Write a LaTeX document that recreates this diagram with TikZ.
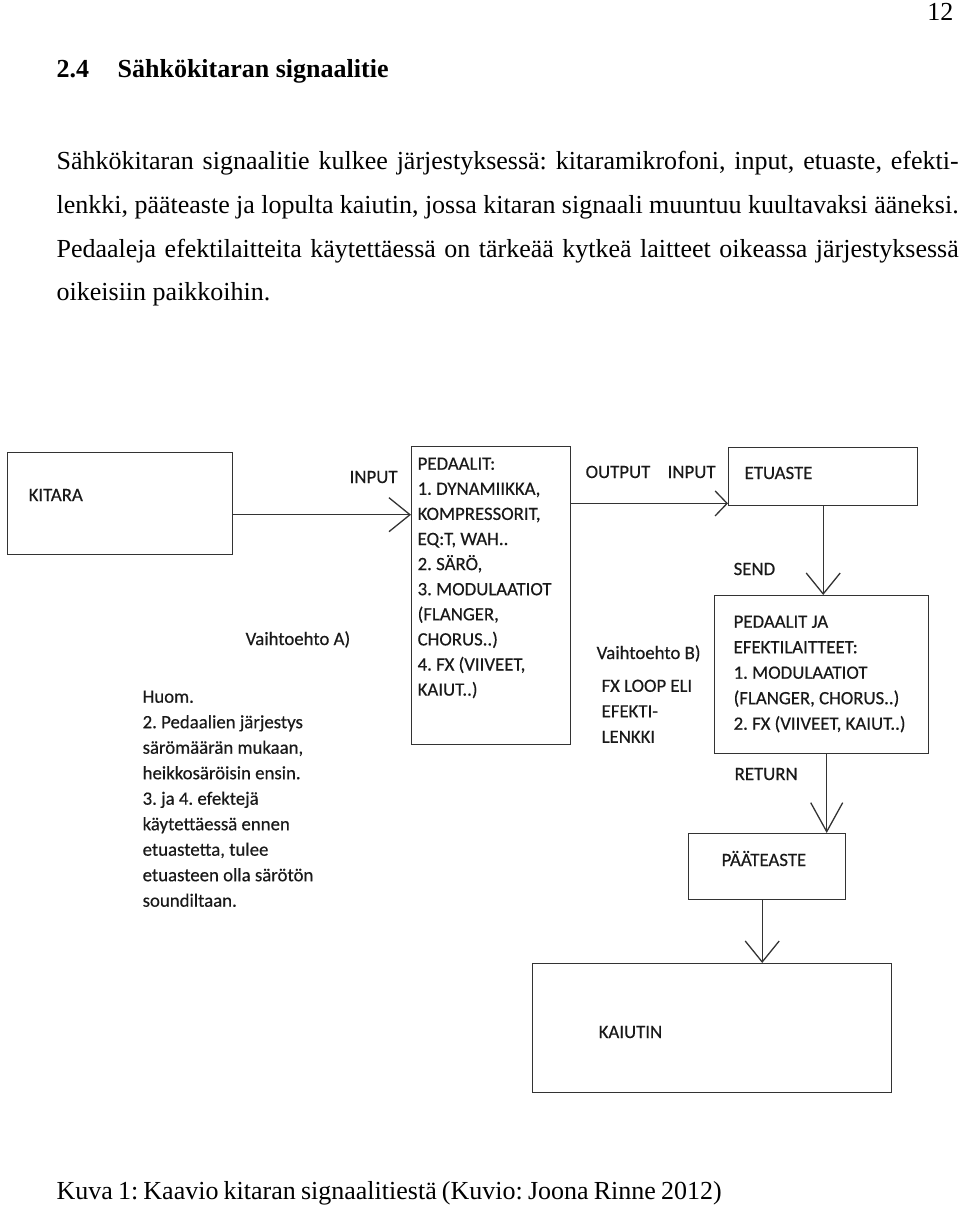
\documentclass[tikz,border=0pt]{standalone}
\usepackage{fontspec}
\setmainfont{Liberation Serif}
\newfontfamily\diafont[FakeBold=0.4]{Carlito}
\usetikzlibrary{arrows.meta}
\definecolor{linegray}{gray}{0.2}
\definecolor{inkgray}{gray}{0.1}
\frenchspacing

\begin{document}
\begin{tikzpicture}[x=1pt,y=-1pt,
-{Straight Barb[length=21pt,width=34pt]}, line width=1.3pt, linegray,
box/.style ={draw=linegray, line width=1.4pt, anchor=north west, inner sep=0pt},
lbl/.style ={font=\diafont\fontsize{18.8}{25.5}\selectfont, text=inkgray,
inner sep=0pt, anchor=base west},
lbllist/.style ={lbl, anchor=north west, align=left},
page/.style ={font=\fontsize{26}{30}\selectfont, text=black, inner sep=0pt,
anchor=base west}]
\useasboundingbox (0,0) rectangle (960,1206);

% page text
\node[page, anchor=base east] (pageno) at (954,21) {12};
\node[page, font=\fontsize{26}{30}\selectfont\bfseries] (secno) at (56,78) {2.4};
\node[page, font=\fontsize{26}{30}\selectfont\bfseries] (title) at (117,78) {Sähkökitaran signaalitie};
\node[page] (par1) at (56,170) {\makebox[902pt][s]{Sähkökitaran signaalitie kulkee järjestyksessä: kitaramikrofoni, input, etuaste, efekti-}};
\node[page] (par2) at (56,213.5) {\makebox[902pt][s]{lenkki, pääteaste ja lopulta kaiutin, jossa kitaran signaali muuntuu kuultavaksi ääneksi.}};
\node[page] (par3) at (56,257) {\makebox[902pt][s]{Pedaaleja efektilaitteita käytettäessä on tärkeää kytkeä laitteet oikeassa järjestyksessä}};
\node[page] (par4) at (56,300.5) {oikeisiin paikkoihin.};
\node[page] (caption) at (56,1199) {\makebox[665pt][s]{Kuva 1: Kaavio kitaran signaalitiestä (Kuvio: Joona Rinne 2012)}};

% boxes
\node[box, minimum width=225pt, minimum height=102pt] (kitara) at (7,452) {};
\node[box, minimum width=159pt, minimum height=298pt] (pedaalit) at (411,446) {};
\node[box, minimum width=189pt, minimum height=58pt] (etuaste) at (728,447) {};
\node[box, minimum width=214pt, minimum height=158pt] (fxloop) at (714,595) {};
\node[box, minimum width=157pt, minimum height=66pt] (paateaste) at (688,833) {};
\node[box, minimum width=359pt, minimum height=129pt] (kaiutin) at (532,963) {};

% box texts
\node[lbl] (kitaratxt) at (28,501) {KITARA};
\node[lbllist, font=\diafont\fontsize{18.8}{25.1}\selectfont] (pedaalittxt) at (417,457)
{PEDAALIT:\\1. DYNAMIIKKA,\\KOMPRESSORIT,\\EQ:T, WAH..\\2. SÄRÖ,\\3. MODULAATIOT\\(FLANGER,\\CHORUS..)\\4. FX (VIIVEET,\\KAIUT..)};
\node[lbl] (etuastetxt) at (744,479) {ETUASTE};
\node[lbllist] (fxlooptxt) at (733,615)
{PEDAALIT JA\\EFEKTILAITTEET:\\1. MODULAATIOT\\(FLANGER, CHORUS..)\\2. FX (VIIVEET, KAIUT..)};
\node[lbl] (paateastetxt) at (721,866) {PÄÄTEASTE};
\node[lbl] (kaiutintxt) at (598,1038) {KAIUTIN};

% labels
\node[lbl] (input1) at (349,483) {INPUT};
\node[lbl] (output) at (585,478) {OUTPUT};
\node[lbl] (input2) at (667,478) {INPUT};
\node[lbl] (send) at (733,575) {SEND};
\node[lbl] (return) at (734,780) {RETURN};
\node[lbl] (optA) at (245,645) {Vaihtoehto A)};
\node[lbl] (optB) at (596,659) {Vaihtoehto B)};
\node[lbllist] (fxlbl) at (601,679) {FX LOOP ELI\\EFEKTI-\\LENKKI};
\node[lbllist] (huom) at (142,690)
{Huom.\\2. Pedaalien järjestys\\särömäärän mukaan,\\heikkosäröisin ensin.\\3. ja 4. efektejä\\käytettäessä ennen\\etuastetta, tulee\\etuasteen olla särötön\\soundiltaan.};

% connectors
\coordinate (in1) at ([yshift=-11pt]kitara.east);
\coordinate (in2) at ([yshift=3pt]etuaste.south west);
\coordinate (ret) at ([xshift=5pt]fxloop.south);
\coordinate (amp) at ([xshift=-5pt]paateaste.south);
\draw (in1) -- (in1 -| pedaalit.west);
\draw[-{Straight Barb[length=12pt,width=25pt]}] (pedaalit.east |- in2) -- (in2);
\draw (etuaste.south) -- (etuaste.south |- fxloop.north);
\draw[-{Straight Barb[length=29pt,width=32pt]}] (ret) -- (ret |- paateaste.north);
\draw (amp) -- (amp |- kaiutin.north);
\end{tikzpicture}
\end{document}
